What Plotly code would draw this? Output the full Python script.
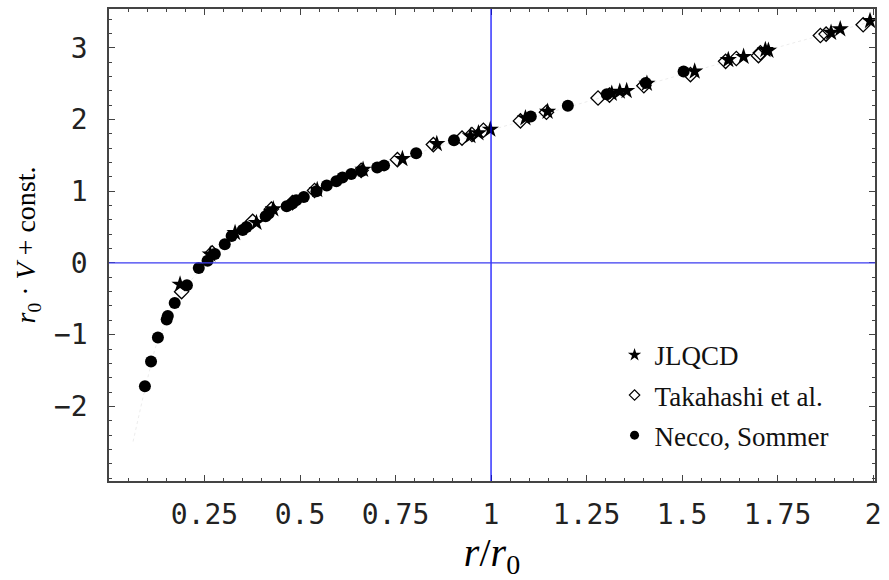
import plotly.graph_objects as go

# JLQCD (stars)
jlqcd_x = [0.186, 0.265, 0.33, 0.386, 0.43, 0.545, 0.665, 0.768, 0.858, 0.946, 0.967, 0.998,
           1.09, 1.148, 1.316, 1.337, 1.355, 1.408, 1.533, 1.621, 1.661, 1.718, 1.726,
           1.89, 1.914, 1.992]
jlqcd_y = [-0.30, 0.12, 0.42, 0.56, 0.75, 1.02, 1.30, 1.45, 1.66, 1.77, 1.81, 1.86,
           2.02, 2.11, 2.36, 2.39, 2.40, 2.50, 2.67, 2.83, 2.875, 2.97, 2.96,
           3.21, 3.26, 3.375]

# Takahashi et al. (open diamonds)
taka_x = [0.19, 0.27, 0.376, 0.425, 0.48, 0.538, 0.66, 0.755, 0.849, 0.924, 0.95, 0.98,
          1.077, 1.145, 1.28, 1.31, 1.40, 1.522, 1.614, 1.642, 1.70, 1.705,
          1.862, 1.877, 1.974]
taka_y = [-0.40, 0.14, 0.58, 0.75, 0.84, 1.01, 1.29, 1.44, 1.65, 1.74, 1.79, 1.85,
          1.98, 2.10, 2.30, 2.34, 2.47, 2.625, 2.81, 2.85, 2.89, 2.93,
          3.17, 3.19, 3.32]

# Necco, Sommer (filled circles)
necco_x = [0.094, 0.110, 0.128, 0.151, 0.154, 0.172, 0.204, 0.235, 0.258, 0.277, 0.303, 0.321,
           0.35, 0.36, 0.41, 0.418, 0.465, 0.48, 0.49, 0.51, 0.543, 0.57, 0.595, 0.611,
           0.634, 0.661, 0.702, 0.72, 0.804, 0.903, 1.104, 1.201, 1.303, 1.405, 1.504]
necco_y = [-1.72, -1.375, -1.04, -0.79, -0.74, -0.56, -0.31, -0.07, 0.03, 0.125, 0.26, 0.375,
           0.46, 0.50, 0.65, 0.69, 0.79, 0.83, 0.875, 0.92, 1.00, 1.08, 1.14, 1.19,
           1.24, 1.28, 1.33, 1.36, 1.53, 1.71, 2.04, 2.19, 2.35, 2.51, 2.67]

# faint dotted curve
curve_x = [0.063, 0.09, 0.12, 0.16, 0.2, 0.3, 0.4, 0.5, 0.6, 0.7, 0.8, 0.9, 1.0,
           1.2, 1.4, 1.6, 1.8, 2.0]
curve_y = [-2.49, -1.85, -1.2, -0.66, -0.33, 0.27, 0.63, 0.9, 1.14, 1.34, 1.52, 1.69, 1.85,
           2.17, 2.48, 2.78, 3.08, 3.37]

x_range = [0, 2.005]
y_range = [-3.04, 3.54]
x_tickvals = [0.25, 0.5, 0.75, 1, 1.25, 1.5, 1.75, 2]
x_ticktext = ["0.25", "0.5", "0.75", "1", "1.25", "1.5", "1.75", "2"]
y_tickvals = [-2, -1, 0, 1, 2, 3]
ref_x = 1
ref_y = 0

fig = go.Figure()
fig.add_trace(go.Scatter(x=curve_x, y=curve_y, mode="lines", showlegend=False,
                         line=dict(color="#d8d8d8", width=0.5, dash="dot"), hoverinfo="skip"))
fig.add_trace(go.Scatter(x=jlqcd_x, y=jlqcd_y, mode="markers", showlegend=False,
                         marker=dict(symbol="star", size=13, color="black")))
fig.add_trace(go.Scatter(x=taka_x, y=taka_y, mode="markers", showlegend=False,
                         marker=dict(symbol="diamond-open", size=11, color="black", line=dict(width=1.3))))
fig.add_trace(go.Scatter(x=necco_x, y=necco_y, mode="markers", showlegend=False,
                         marker=dict(symbol="circle", size=12, color="black")))

# legend entries (smaller symbols as in the reference legend)
fig.add_trace(go.Scatter(x=[None], y=[None], mode="markers", name="JLQCD", legendgroup="a",
                         marker=dict(symbol="star", size=10, color="black")))
fig.add_trace(go.Scatter(x=[None], y=[None], mode="markers", name="Takahashi et al.", legendgroup="b",
                         marker=dict(symbol="diamond-open", size=8, color="black", line=dict(width=1.2))))
fig.add_trace(go.Scatter(x=[None], y=[None], mode="markers", name="Necco, Sommer", legendgroup="c",
                         marker=dict(symbol="circle", size=9, color="black")))

# invisible trace on the mirrored axes so the top/right ticks are drawn
fig.add_trace(go.Scatter(x=[None], y=[None], xaxis="x2", yaxis="y2", showlegend=False,
                         hoverinfo="skip"))

fig.add_vline(x=ref_x, line=dict(color="#0000ff", width=1.2))
fig.add_hline(y=ref_y, line=dict(color="#3b3bf0", width=1.2))

tickfont = dict(family="DejaVu Sans Mono", size=28, color="#222222")
axcol = "#444444"
fig.update_layout(
    width=889, height=580,
    margin=dict(l=109, r=12, t=7, b=99),
    paper_bgcolor="white", plot_bgcolor="white",
    showlegend=True,
    legend=dict(x=0.66, y=0.318, xanchor="left", yanchor="top",
                font=dict(family="Liberation Serif", size=27, color="#111111"),
                bgcolor="rgba(0,0,0,0)", tracegroupgap=2, itemwidth=30),
    xaxis=dict(range=x_range, showgrid=False, zeroline=False,
               showline=True, linecolor=axcol, linewidth=1.5, mirror=True,
               ticks="inside", ticklen=6, tickcolor=axcol,
               tickvals=x_tickvals, ticktext=x_ticktext, tickfont=tickfont,
               ticklabelstandoff=8,
               minor=dict(dtick=0.05, tick0=0, ticks="inside", ticklen=3, tickcolor=axcol),
               title=dict(text="<i>r</i>/<i>r</i><sub>0</sub>",
                          font=dict(family="Liberation Serif", size=40, color="black"),
                          standoff=12)),
    yaxis=dict(range=y_range, showgrid=False, zeroline=False,
               showline=True, linecolor=axcol, linewidth=1.5, mirror=True,
               ticks="inside", ticklen=6, tickcolor=axcol,
               tickvals=y_tickvals, tickfont=tickfont, ticklabelstandoff=14,
               minor=dict(dtick=0.2, tick0=0, ticks="inside", ticklen=3, tickcolor=axcol),
               title=dict(text="<i>r</i><sub>0</sub> · <i>V</i> + const.",
                          font=dict(family="Liberation Serif", size=28, color="black"),
                          standoff=10)),
    xaxis2=dict(range=x_range, overlaying="x", side="top", showgrid=False, zeroline=False,
                showline=False, ticks="inside", ticklen=6, tickcolor=axcol,
                tickvals=x_tickvals, showticklabels=False,
                minor=dict(dtick=0.05, tick0=0, ticks="inside", ticklen=3, tickcolor=axcol)),
    yaxis2=dict(range=y_range, overlaying="y", side="right", showgrid=False, zeroline=False,
                showline=False, ticks="inside", ticklen=6, tickcolor=axcol,
                tickvals=y_tickvals, showticklabels=False,
                minor=dict(dtick=0.2, tick0=0, ticks="inside", ticklen=3, tickcolor=axcol)),
)
fig.write_html("out.html")
